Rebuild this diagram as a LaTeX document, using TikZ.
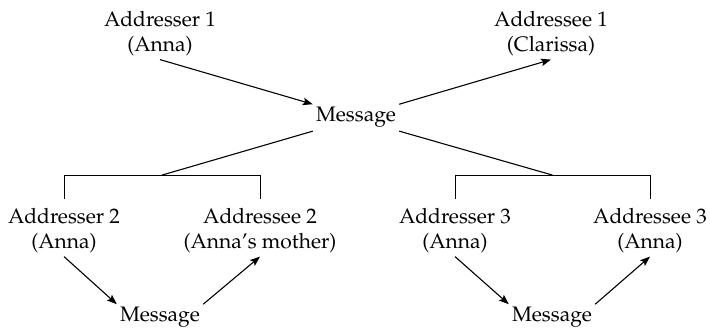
\documentclass[tikz,border=0pt]{standalone}
\usepackage[T1]{fontenc}
\usepackage{mathpazo}
\usetikzlibrary{arrows.meta,calc}
\tikzset{
  lbl/.style={align=center, inner sep=3pt, font=\fontsize{21}{25.5}\selectfont},
  arr/.style={line width=1.1pt, -{Stealth[length=10pt,width=7.5pt,inset=2pt]}},
  ln/.style={line width=1.1pt},
  brk/.style={line width=0.9pt}
}
\begin{document}
\begin{tikzpicture}[x=1pt,y=1pt]
\useasboundingbox (0,0) rectangle (710,-328);
\node[lbl, anchor=base] (a1) at (160,-52) {Addresser 1\\(Anna)};
\node[lbl, anchor=base] (ae1) at (551,-52) {Addressee 1\\(Clarissa)};
\node[lbl, anchor=base] (m0) at (356,-122) {Message};
\node[lbl, anchor=base] (a2) at (64,-249) {Addresser 2\\(Anna)};
\node[lbl, anchor=base] (ae2) at (260,-249) {Addressee 2\\(Anna'{}s mother)};
\node[lbl, anchor=base] (a3) at (455,-249) {Addresser 3\\(Anna)};
\node[lbl, anchor=base] (ae3) at (650,-249) {Addressee 3\\(Anna)};
\node[lbl, anchor=base] (m2) at (160,-322) {Message};
\node[lbl, anchor=base] (m3) at (552,-322) {Message};
% top arrows
\draw[arr] (a1.south) -- (m0.north west);
\draw[arr] (m0.north east) -- (ae1.south);
% brackets
\draw[brk] ([yshift=6pt]a2.north) -- ([yshift=30pt]a2.north) -| coordinate[pos=0.25] (b2) ([yshift=6pt]ae2.north);
\draw[brk] ([yshift=6pt]a3.north) -- ([yshift=30pt]a3.north) -| coordinate[pos=0.25] (b3) ([yshift=6pt]ae3.north);
\draw[ln] (m0.south west) -- (b2);
\draw[ln] (m0.south east) -- (b3);
% bottom arrows
\draw[arr] (a2.south) -- (m2.north west);
\draw[arr] (m2.north east) -- (ae2.south);
\draw[arr] (a3.south) -- (m3.north west);
\draw[arr] (m3.north east) -- (ae3.south);
\end{tikzpicture}
\end{document}
